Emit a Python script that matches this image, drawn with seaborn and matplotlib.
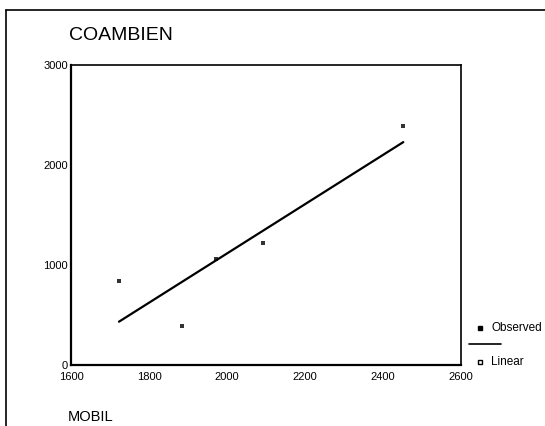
import numpy as np
import pandas as pd
import matplotlib
matplotlib.use("Agg")
import matplotlib.pyplot as plt
from matplotlib.lines import Line2D
import seaborn as sns

# Data
mobil = [1723, 1885, 1973, 2093, 2452]
coambien = [837, 387, 1057, 1217, 2390]
x_ticks = [1600, 1800, 2000, 2200, 2400, 2600]
y_ticks = [0, 1000, 2000, 3000]

sns.set_style("white")
plt.rcParams['font.family'] = ['Liberation Sans', 'DejaVu Sans']
plt.rcParams['text.color'] = 'black'

df = pd.DataFrame({"MOBIL": mobil, "COAMBIEN": coambien})

fig = plt.figure(figsize=(5.45, 4.26), dpi=100)
ax = fig.add_axes([0.1303, 0.1432, 0.7156, 0.7042])

sns.regplot(data=df, x="MOBIL", y="COAMBIEN", ax=ax, ci=None, truncate=True,
            marker="s",
            scatter_kws=dict(s=10, color="black", linewidths=0),
            line_kws=dict(color="black", lw=1.6))

ax.set_xlim(1600, 2600)
ax.set_ylim(0, 3000)
ax.set_xticks(x_ticks)
ax.set_yticks(y_ticks)
ax.set_xlabel("")
ax.set_ylabel("")
ax.tick_params(axis="both", labelsize=8, length=2.5, width=1.2, direction="inout",
               color="black", labelcolor="black")
ax.tick_params(axis="x", pad=4)
ax.tick_params(axis="y", pad=1)
for s in ["left", "bottom"]:
    ax.spines[s].set_linewidth(1.6)
    ax.spines[s].set_color("black")
for s in ["top", "right"]:
    ax.spines[s].set_linewidth(1.2)
    ax.spines[s].set_color("black")

W, H = 545, 426
def fx(px):
    return px / W
def fy(py):
    return 1 - py / H

# Titles
fig.text(fx(69), fy(36), "COAMBIEN", fontsize=14, va="center", ha="left", color="black")
fig.text(fx(68), fy(417), "MOBIL", fontsize=10.5, va="center", ha="left", color="black")

# Legend (SPSS style)
fig.add_artist(Line2D([fx(480)], [fy(328)], marker="s", markersize=3.2,
                      color="black", linestyle="none", transform=fig.transFigure))
fig.text(fx(491), fy(328), "Observed", fontsize=8.5, va="center", ha="left", color="black")
fig.add_artist(Line2D([fx(469), fx(501)], [fy(344), fy(344)], color="black",
                      lw=1.2, transform=fig.transFigure))
fig.add_artist(Line2D([fx(480)], [fy(362)], marker="s", markersize=3.2,
                      markerfacecolor="white", markeredgecolor="black",
                      markeredgewidth=1, linestyle="none", transform=fig.transFigure))
fig.text(fx(491), fy(362), "Linear", fontsize=8.5, va="center", ha="left", color="black")

# Outer frame (left and top edges)
fig.add_artist(Line2D([fx(6), fx(6)], [fy(10), 0], color="black", lw=1.2,
                      transform=fig.transFigure))
fig.add_artist(Line2D([fx(6), 1], [fy(10), fy(10)], color="black", lw=1.2,
                      transform=fig.transFigure))

fig.savefig("out.png", dpi=100)
